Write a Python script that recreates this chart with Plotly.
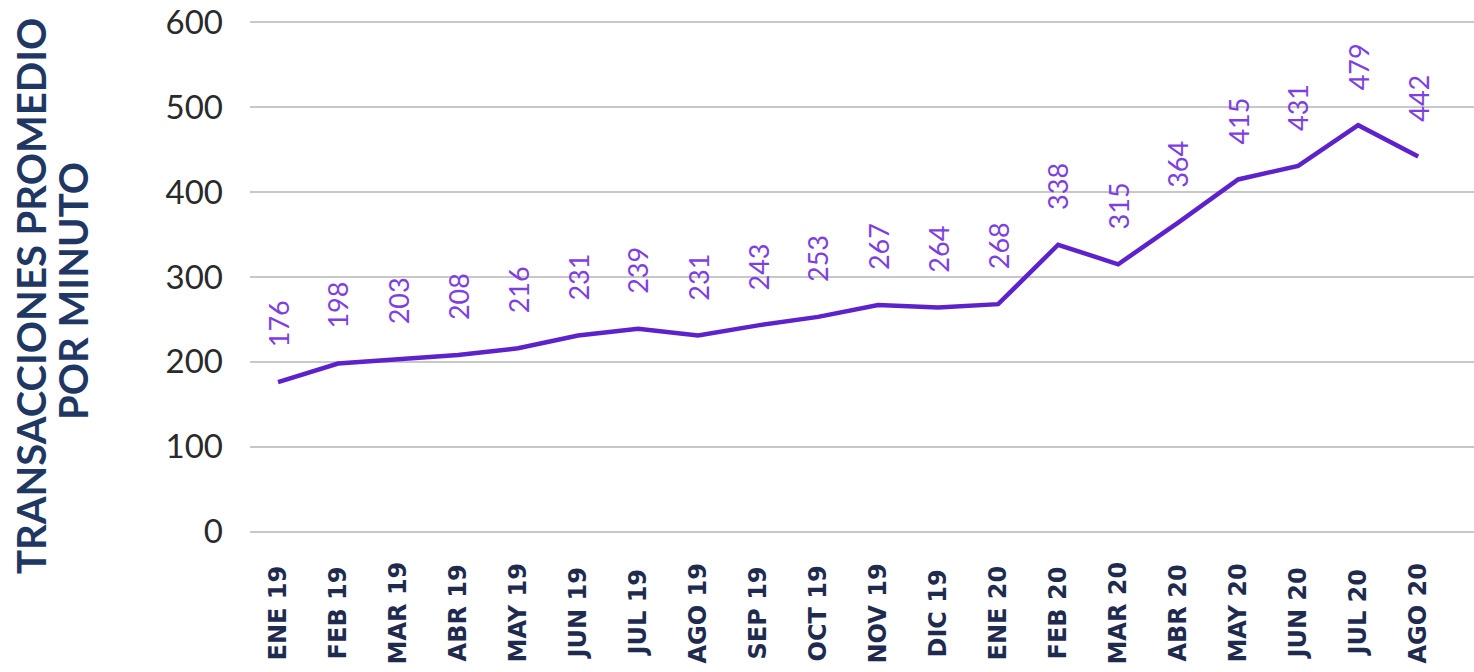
import plotly.graph_objects as go

months = ["ENE 19", "FEB 19", "MAR 19", "ABR 19", "MAY 19", "JUN 19", "JUL 19",
          "AGO 19", "SEP 19", "OCT 19", "NOV 19", "DIC 19", "ENE 20", "FEB 20",
          "MAR 20", "ABR 20", "MAY 20", "JUN 20", "JUL 20", "AGO 20"]
values = [176, 198, 203, 208, 216, 231, 239, 231, 243, 253, 267, 264, 268, 338,
          315, 364, 415, 431, 479, 442]
y_ticks = [0, 100, 200, 300, 400, 500, 600]
title_lines = ["TRANSACCIONES PROMEDIO", "POR MINUTO"]

LINE = "#5E22CC"
LABEL = "#7E3FE2"
NAVY = "#1E2B4F"
TITLE = "#1F3763"

W, H = 1474, 672
L, R = 250, 0
T, B = 13.5, 131.5
PW = W - L - R
PH = H - T - B


def px_x(px):
    return (px - L) / PW


def px_y(py):
    return (H - B - py) / PH


fig = go.Figure()
fig.add_trace(go.Scatter(x=months, y=values, mode="lines",
                         line=dict(color=LINE, width=4.5), cliponaxis=False,
                         hoverinfo="skip"))

annotations = []
for m, v in zip(months, values):
    annotations.append(dict(x=m, y=v, xref="x", yref="y", text=str(v),
                            showarrow=False, textangle=-90, yanchor="middle",
                            xanchor="center", yshift=58,
                            font=dict(family="Lato", size=27, color=LABEL)))
    annotations.append(dict(x=m, y=px_y(614), xref="x", yref="paper", text=m,
                            showarrow=False, textangle=-90, yanchor="middle",
                            xanchor="center",
                            font=dict(family="DejaVu Sans", size=24, color=NAVY,
                                      weight="bold")))
for txt, cx, cy in zip(title_lines, [31, 73], [296, 291]):
    annotations.append(dict(x=px_x(cx), y=px_y(cy), xref="paper", yref="paper",
                            text=txt, showarrow=False, textangle=-90,
                            xanchor="center", yanchor="middle",
                            font=dict(family="Lato", size=40, color=TITLE,
                                      weight="bold")))

fig.update_layout(
    width=W, height=H,
    margin=dict(l=L, r=R, t=T, b=B, autoexpand=False),
    paper_bgcolor="white", plot_bgcolor="white",
    showlegend=False,
    annotations=annotations,
    xaxis=dict(type="category", range=[-0.467, 19.93], showticklabels=False,
               showgrid=False, zeroline=False, showline=False, ticks="",
               automargin=False),
    yaxis=dict(range=[-10, 610], tickvals=y_ticks, showgrid=True,
               gridcolor="#C8C8C8", gridwidth=1.5, zeroline=False,
               showline=False, ticks="", ticklabelstandoff=26, automargin=False,
               tickfont=dict(family="Lato", size=33, color="#2A2A2A")),
)

fig.write_html("out.html", config={"displayModeBar": False},
               post_script="document.body.style.margin='0';"
                           "document.body.style.overflow='hidden';")
